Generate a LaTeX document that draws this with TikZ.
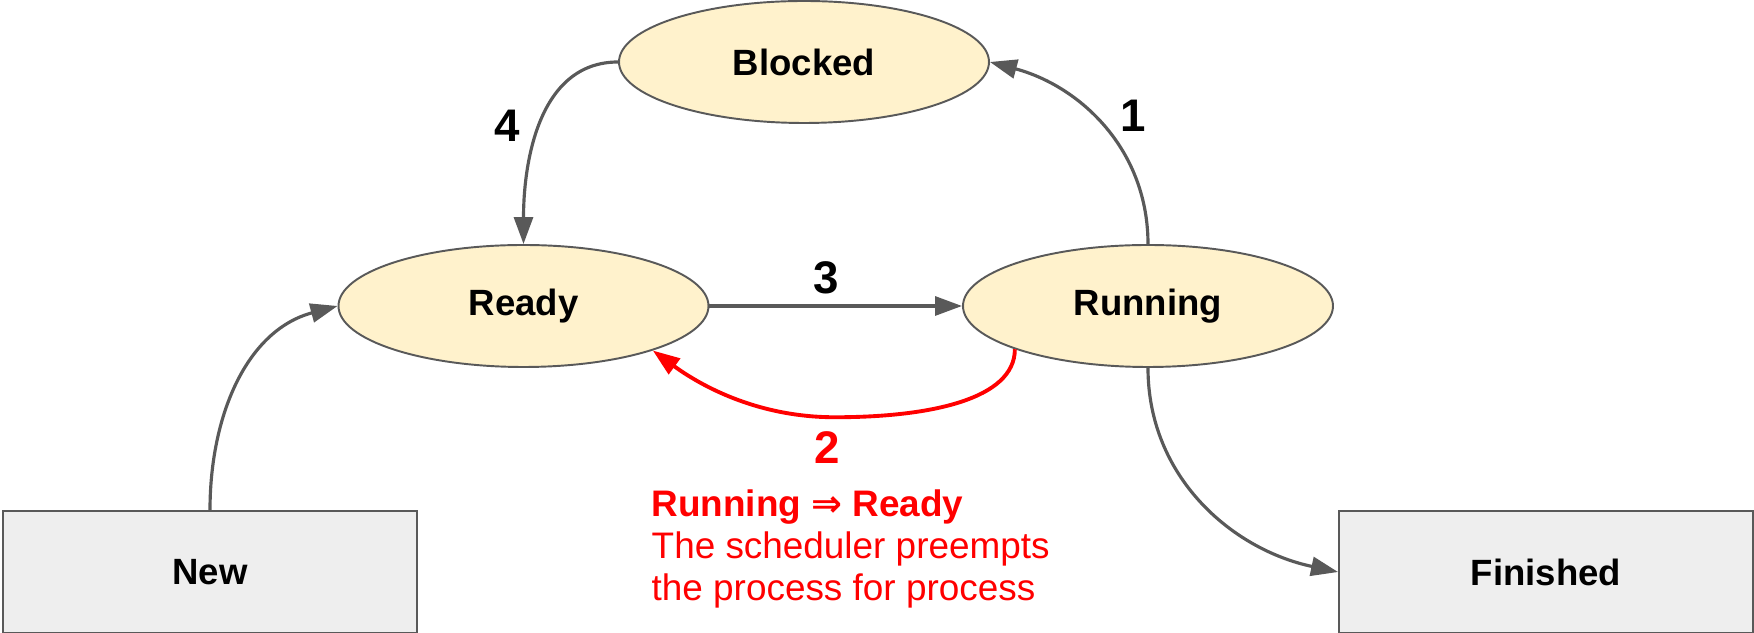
\documentclass[tikz,border=0pt]{standalone}
\usepackage{fontspec}
\usepackage{xcolor}
\usepackage{tikz}
\usetikzlibrary{shapes.geometric,arrows.meta}
\setmainfont{Liberation Sans}
\newfontfamily\arrowFont{DejaVu Sans}
\definecolor{stateFill}{HTML}{FFF2CC}
\definecolor{boxFill}{HTML}{EEEEEE}
\definecolor{edgeGray}{HTML}{595959}
\definecolor{noteRed}{HTML}{FF0000}
\newcommand{\stateWidth}{3.7}
\newcommand{\stateHeight}{1.22}
\newcommand{\boxWidth}{4.14}
\newcommand{\labelFont}{\fontsize{10.4}{12}\selectfont\bfseries}
\newcommand{\numberFont}{\fontsize{13}{15}\selectfont\bfseries}

\begin{document}
\begin{tikzpicture}[
	stateNode/.style={ellipse, draw=edgeGray, line width=0.55pt, fill=stateFill, minimum width=\stateWidth cm, minimum height=\stateHeight cm, inner sep=0pt, font=\labelFont},
	endNode/.style={rectangle, draw=edgeGray, line width=0.55pt, fill=boxFill, minimum width=\boxWidth cm, minimum height=\stateHeight cm, inner sep=0pt, font=\labelFont},
	flowArrow/.style={draw=edgeGray, line width=0.9pt, -{Triangle[length=2.7mm,width=1.9mm]}},
	numLabel/.style={font=\numberFont, inner sep=0pt}
]
	\useasboundingbox (0,0) rectangle (17.54,-6.33);

	% states
	\node[stateNode] (blocked) at (8.04,-0.62) {Blocked};
	\node[stateNode] (ready) at (5.235,-3.06) {Ready};
	\node[stateNode] (running) at (11.48,-3.06) {Running};
	\node[endNode] (new) at (2.10,-5.72) {New};
	\node[endNode] (finished) at (15.46,-5.72) {Finished};

	% transitions
	\draw[flowArrow] (new.north) to[out=90,in=195] (ready.west);
	\draw[flowArrow] (blocked.west) to[out=180,in=90] (ready.north);
	\draw[flowArrow] (running.north) to[out=90,in=-15] (blocked.east);
	\draw[flowArrow] (ready.east) -- (running.west);
	\draw[flowArrow, draw=noteRed, line width=1.1pt] (running.198) .. controls +(0,-0.5) and +(0.95,0) .. ++(-1.80,-0.68) .. controls +(-0.8,0) and +(0.45,-0.33) .. (ready.-19);
	\draw[flowArrow] (running.south) to[out=-90,in=168] (finished.west);

	\node[numLabel] (four) at (5.07,-1.26) {4};
	\node[numLabel] (one) at (11.33,-1.16) {1};
	\node[numLabel] (three) at (8.26,-2.78) {3};
	\node[numLabel, text=noteRed] (two) at (8.27,-4.48) {2};

	\node[anchor=north west, inner sep=0pt, align=left, text=noteRed, font=\fontsize{10.5}{12}\selectfont] (note) at (6.51,-4.89) {\textbf{Running {\arrowFont\bfseries ⇒} Ready}\\The scheduler preempts\\the process for process};
\end{tikzpicture}
\end{document}
